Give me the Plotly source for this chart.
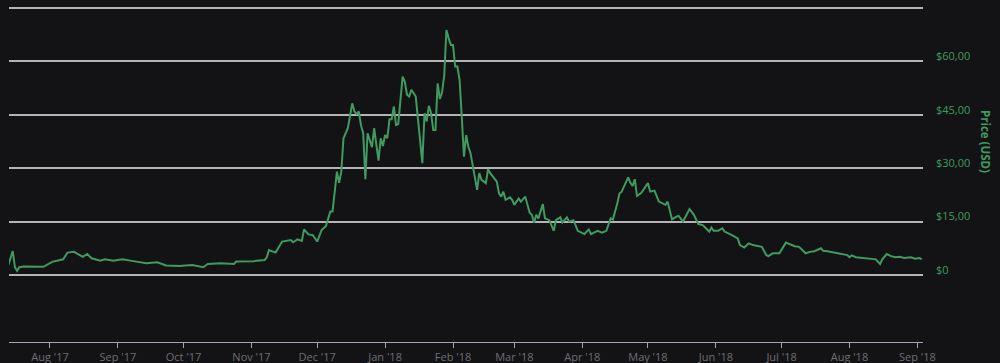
import plotly.graph_objects as go

dates = [
    "2017-07-13", "2017-07-15", "2017-07-16", "2017-07-17", "2017-07-18", "2017-07-20", "2017-07-29",
    "2017-08-02", "2017-08-07", "2017-08-09", "2017-08-12", "2017-08-16", "2017-08-18", "2017-08-20",
    "2017-08-24", "2017-08-26", "2017-08-30", "2017-09-03", "2017-09-08", "2017-09-14", "2017-09-19",
    "2017-09-23", "2017-09-29", "2017-10-05", "2017-10-10", "2017-10-12", "2017-10-18", "2017-10-24",
    "2017-10-25", "2017-11-02", "2017-11-07", "2017-11-08", "2017-11-09", "2017-11-12", "2017-11-15",
    "2017-11-19", "2017-11-20", "2017-11-22", "2017-11-24", "2017-11-25", "2017-11-27", "2017-11-29",
    "2017-12-01", "2017-12-03", "2017-12-05", "2017-12-07", "2017-12-08", "2017-12-10", "2017-12-11",
    "2017-12-12", "2017-12-13", "2017-12-15", "2017-12-17", "2017-12-18", "2017-12-19", "2017-12-20",
    "2017-12-21", "2017-12-22", "2017-12-23", "2017-12-24", "2017-12-26", "2017-12-27", "2017-12-29",
    "2017-12-30", "2017-12-31", "2018-01-01", "2018-01-02", "2018-01-03", "2018-01-04", "2018-01-05",
    "2018-01-06", "2018-01-07", "2018-01-09", "2018-01-10", "2018-01-11", "2018-01-12", "2018-01-13",
    "2018-01-15", "2018-01-18", "2018-01-19", "2018-01-20", "2018-01-21", "2018-01-22", "2018-01-23",
    "2018-01-24", "2018-01-25", "2018-01-26", "2018-01-27", "2018-01-28", "2018-01-29", "2018-01-30",
    "2018-01-31", "2018-02-01", "2018-02-02", "2018-02-03", "2018-02-04", "2018-02-05", "2018-02-06",
    "2018-02-07", "2018-02-08", "2018-02-09", "2018-02-12", "2018-02-13", "2018-02-14", "2018-02-16",
    "2018-02-17", "2018-02-18", "2018-02-21", "2018-02-22", "2018-02-23", "2018-02-24", "2018-02-25",
    "2018-02-27", "2018-02-28", "2018-03-01", "2018-03-03", "2018-03-04", "2018-03-06", "2018-03-08",
    "2018-03-09", "2018-03-10", "2018-03-11", "2018-03-12", "2018-03-14", "2018-03-15", "2018-03-17",
    "2018-03-19", "2018-03-20", "2018-03-22", "2018-03-23", "2018-03-25", "2018-03-26", "2018-03-28",
    "2018-03-30", "2018-04-02", "2018-04-04", "2018-04-05", "2018-04-08", "2018-04-10", "2018-04-12",
    "2018-04-14", "2018-04-15", "2018-04-17", "2018-04-18", "2018-04-19", "2018-04-22", "2018-04-23",
    "2018-04-24", "2018-04-25", "2018-04-26", "2018-04-28", "2018-05-01", "2018-05-02", "2018-05-04",
    "2018-05-06", "2018-05-09", "2018-05-10", "2018-05-12", "2018-05-14", "2018-05-15", "2018-05-17",
    "2018-05-20", "2018-05-22", "2018-05-24", "2018-05-26", "2018-05-29", "2018-05-30", "2018-05-31",
    "2018-06-02", "2018-06-04", "2018-06-05", "2018-06-07", "2018-06-09", "2018-06-11", "2018-06-12",
    "2018-06-14", "2018-06-16", "2018-06-18", "2018-06-22", "2018-06-24", "2018-06-25", "2018-06-27",
    "2018-06-30", "2018-07-03", "2018-07-05", "2018-07-07", "2018-07-09", "2018-07-10", "2018-07-12",
    "2018-07-14", "2018-07-16", "2018-07-19", "2018-07-20", "2018-07-22", "2018-07-25", "2018-07-28",
    "2018-07-31", "2018-08-01", "2018-08-02", "2018-08-04", "2018-08-07", "2018-08-10", "2018-08-13",
    "2018-08-15", "2018-08-16", "2018-08-18", "2018-08-20", "2018-08-22", "2018-08-24", "2018-08-26",
    "2018-08-29", "2018-08-31", "2018-09-02", "2018-09-03",
]

prices = [
    2.8, 6.7, 2.2, 1.2, 2.2, 2.4, 2.3,
    3.7, 4.4, 6.3, 6.5, 5.1, 5.9, 4.7,
    4.0, 4.4, 4.0, 4.4, 3.9, 3.3, 3.6,
    2.7, 2.5, 2.8, 2.2, 3.1, 3.3, 3.1,
    3.8, 3.9, 4.2, 5.0, 7.0, 6.3, 9.4,
    9.8, 9.2, 10.0, 9.6, 12.8, 11.4, 11.2,
    9.4, 12.6, 13.8, 17.8, 17.8, 29.0, 25.9,
    29.0, 38.4, 41.2, 48.2, 45.9, 45.2, 45.9,
    42.0, 39.8, 26.9, 39.8, 35.9, 41.2, 32.1,
    38.4, 36.2, 39.3, 38.4, 43.7, 43.7, 47.3,
    42.1, 42.4, 55.7, 54.3, 50.6, 50.1, 52.0,
    50.1, 31.4, 45.4, 43.1, 47.5, 45.4, 40.7,
    40.7, 53.8, 49.4, 51.2, 56.0, 68.8, 66.5,
    64.6, 64.6, 58.5, 58.5, 54.8, 44.5, 33.2,
    39.3, 36.0, 34.2, 23.9, 28.6, 26.7, 25.8,
    29.7, 28.6, 26.2, 22.9, 22.0, 23.4, 21.1,
    21.8, 21.1, 19.7, 21.5, 20.6, 22.0, 17.5,
    16.9, 14.7, 16.9, 15.9, 19.9, 15.9, 15.4,
    12.4, 15.4, 16.2, 14.7, 16.2, 15.0, 15.4,
    12.4, 11.5, 12.8, 11.5, 12.4, 11.9, 12.4,
    15.9, 15.6, 20.1, 22.9, 23.4, 27.4, 25.9,
    25.0, 26.9, 22.2, 23.1, 25.8, 23.4, 23.7,
    20.6, 19.7, 20.6, 15.6, 16.4, 16.6, 15.0,
    18.5, 16.9, 14.3, 14.0, 12.2, 13.3, 12.4,
    12.4, 13.1, 12.2, 11.7, 11.0, 10.3, 8.4,
    7.7, 8.9, 8.4, 7.9, 5.6, 5.3, 6.1,
    6.1, 9.1, 8.6, 8.1, 7.9, 7.2, 6.1,
    6.5, 6.7, 7.5, 6.8, 6.7, 6.3, 5.8,
    5.6, 5.0, 5.5, 5.0, 4.8, 4.5, 4.4,
    3.1, 4.4, 5.9, 5.3, 5.0, 5.1, 4.8,
    5.0, 4.6, 4.8, 4.4,
]

y_tick_values = [0, 15, 30, 45, 60, 75]
y_tick_labels = ["$0", "$15,00", "$30,00", "$45,00", "$60,00", ""]
y_title = "Price (USD)"

green = "#3f9b60"
bg = "#131316"

fig = go.Figure()
fig.add_trace(go.Scatter(
    x=dates, y=prices, mode="lines",
    line=dict(color=green, width=2),
    showlegend=False, hoverinfo="skip",
))

fig.update_layout(
    width=1000, height=363,
    paper_bgcolor=bg, plot_bgcolor=bg,
    margin=dict(l=9, r=77, t=0, b=21),
    font=dict(family="Open Sans, Liberation Sans, sans-serif"),
    xaxis=dict(
        type="date",
        range=["2017-07-13 07:00", "2018-09-03 14:00"],
        dtick="M1", tick0="2017-08-01",
        tickformat="%b '%y",
        showgrid=False, zeroline=False,
        showline=True, linecolor="#9ea6b8", linewidth=1,
        ticks="outside", ticklen=5, tickcolor="#9ea6b8", tickwidth=1,
        tickfont=dict(color="#6e6e72", size=11),
    ),
    yaxis=dict(
        side="right",
        range=[-18.8, 77.2],
        tickvals=y_tick_values, ticktext=y_tick_labels,
        showgrid=True, gridcolor="#b4b4b8", gridwidth=1.6,
        zeroline=False, showline=False,
        ticks="", ticklabelshift=-5, ticklabelstandoff=12,
        tickfont=dict(color=green, size=11),
    ),
    annotations=[dict(
        text="<b>%s</b>" % y_title, textangle=90,
        xref="paper", yref="paper", x=1.0678, y=0.585,
        xanchor="center", yanchor="middle", showarrow=False,
        font=dict(color=green, size=11.5),
    )],
)

fig.write_html(
    "out.html",
    config={"displayModeBar": False},
    post_script="document.body.style.margin='0';document.body.style.background='%s';" % bg,
)
